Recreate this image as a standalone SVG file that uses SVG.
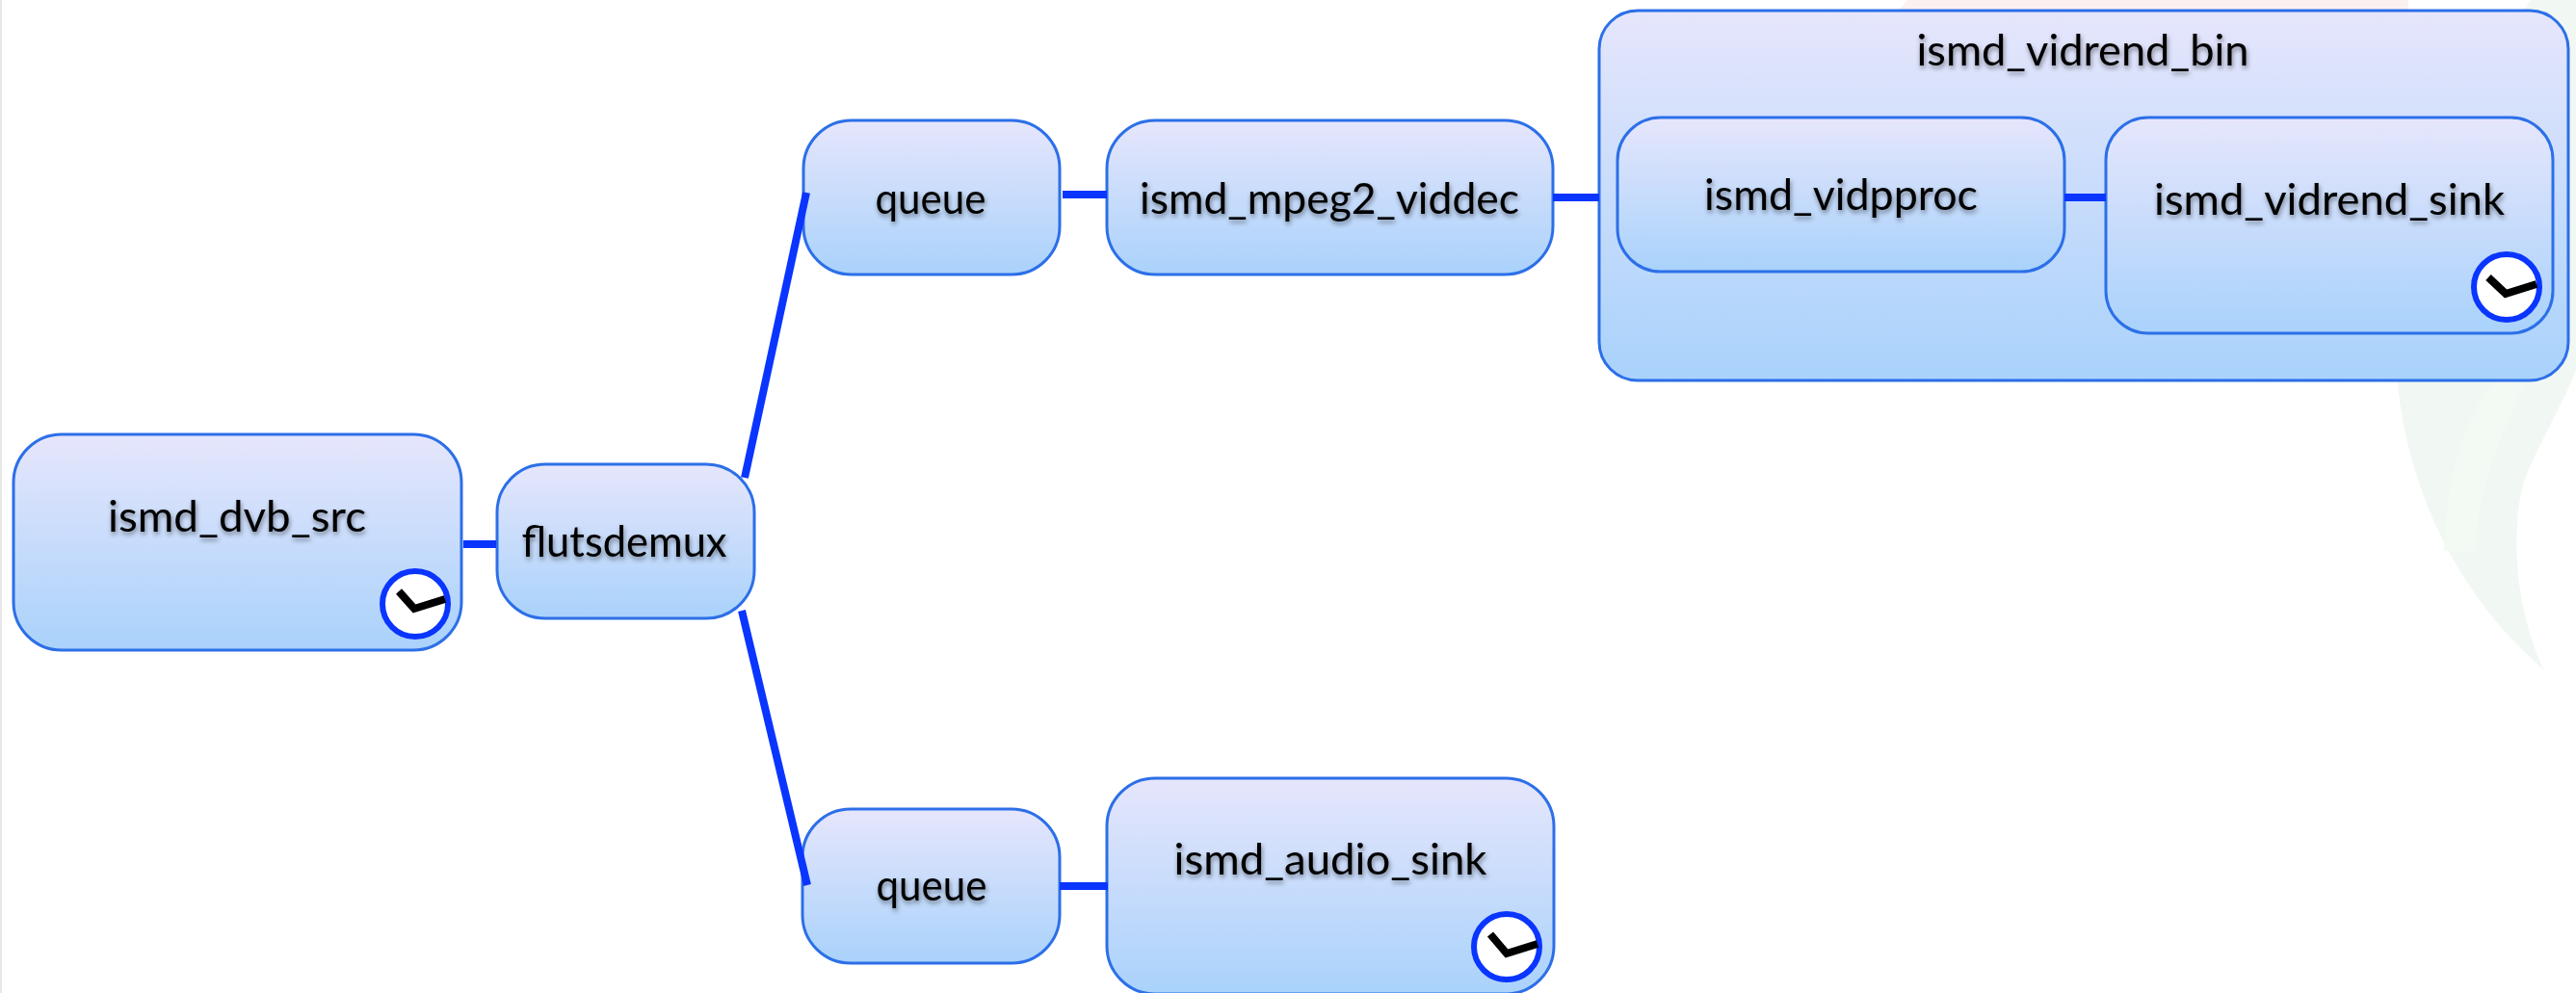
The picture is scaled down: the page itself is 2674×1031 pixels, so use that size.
<svg xmlns="http://www.w3.org/2000/svg" width="2674" height="1031" viewBox="0 0 2674 1031">
<defs>
<linearGradient id="g" x1="0" y1="0" x2="0" y2="1"><stop offset="0" stop-color="#e6e6fc"/><stop offset="1" stop-color="#a9d2fb"/></linearGradient>
<filter id="ts" x="-10%" y="-30%" width="120%" height="170%"><feDropShadow dx="1" dy="3" stdDeviation="2.5" flood-color="#000" flood-opacity="0.45"/></filter>
</defs>
<style>
.n{fill:url(#g);stroke:#2c6fe8;stroke-width:3}
.t{font-family:"Lato","Open Sans",sans-serif;font-size:45px;fill:#000;text-anchor:middle;filter:url(#ts)}
.c{stroke:#0a35ff;stroke-width:8;fill:none}
.f{fill:#fff;stroke:#0a35ff;stroke-width:6}
.h{fill:none;stroke:#000;stroke-width:8}
</style>
<rect width="2674" height="1031" fill="#fff"/>
<rect x="0" y="0" width="2" height="1031" fill="#e8e8e8"/>
<g id="watermark">
<path d="M1980 0L1970 12H2500L2500 0Z" fill="#fbf1f1"/>
<path d="M2627 0L2560 100L2488 390C2498 510 2553 620 2640 695C2615 640 2603 560 2620 500C2635 460 2660 420 2674 385L2674 0Z" fill="#f1f7f2"/>
<path d="M2537 572C2537 500 2562 420 2592 395L2622 395C2592 460 2572 510 2569 572Z" fill="#f3f9f3"/>
</g>
<g id="ismd_dvb_src"><rect class="n" x="14" y="451" width="465" height="224" rx="50" ry="50"/><text class="t" x="246" y="552" textLength="268" lengthAdjust="spacingAndGlyphs">ismd_dvb_src</text>
<circle class="f" cx="431" cy="627" r="34"/><path class="h" d="M414 614L430 632L462 622"/></g>
<g id="flutsdemux"><rect class="n" x="516" y="482" width="267" height="160" rx="50" ry="50"/><text class="t" x="648" y="578" textLength="213" lengthAdjust="spacingAndGlyphs">flutsdemux</text></g>
<g id="queue_top"><rect class="n" x="834" y="125" width="266" height="160" rx="50" ry="50"/><text class="t" x="966" y="222" textLength="115" lengthAdjust="spacingAndGlyphs">queue</text></g>
<g id="ismd_mpeg2_viddec"><rect class="n" x="1149" y="125" width="463" height="160" rx="50" ry="50"/><text class="t" x="1380" y="222" textLength="394" lengthAdjust="spacingAndGlyphs">ismd_mpeg2_viddec</text></g>
<g id="ismd_vidrend_bin"><rect class="n" x="1660" y="11" width="1006" height="384" rx="40" ry="40"/><text class="t" x="2162" y="68" textLength="345" lengthAdjust="spacingAndGlyphs">ismd_vidrend_bin</text></g>
<g id="ismd_vidpproc"><rect class="n" x="1679" y="122" width="464" height="160" rx="45" ry="45"/><text class="t" x="1911" y="218" textLength="284" lengthAdjust="spacingAndGlyphs">ismd_vidpproc</text></g>
<g id="ismd_vidrend_sink"><rect class="n" x="2186" y="122" width="464" height="224" rx="44" ry="44"/><text class="t" x="2418" y="223" textLength="364" lengthAdjust="spacingAndGlyphs">ismd_vidrend_sink</text>
<circle class="f" cx="2602" cy="298" r="34"/><path class="h" d="M2583 288L2601 305L2633 295"/></g>
<g id="queue_bottom"><rect class="n" x="833" y="840" width="267" height="160" rx="50" ry="50"/><text class="t" x="967" y="935" textLength="115" lengthAdjust="spacingAndGlyphs">queue</text></g>
<g id="ismd_audio_sink"><rect class="n" x="1149" y="808" width="464" height="224" rx="50" ry="50"/><text class="t" x="1381" y="908" textLength="325" lengthAdjust="spacingAndGlyphs">ismd_audio_sink</text>
<circle class="f" cx="1564" cy="983" r="34"/><path class="h" d="M1547 970L1564 990L1596 980"/></g>
<g id="connectors">
<path class="c" d="M481 565H515"/>
<path class="c" d="M773 496L837 200"/>
<path class="c" d="M770 634L838 919"/>
<path class="c" d="M1103 202H1149"/>
<path class="c" d="M1612 205H1660"/>
<path class="c" d="M2143 205H2186"/>
<path class="c" d="M1100 920H1150"/>
</g>
</svg>
